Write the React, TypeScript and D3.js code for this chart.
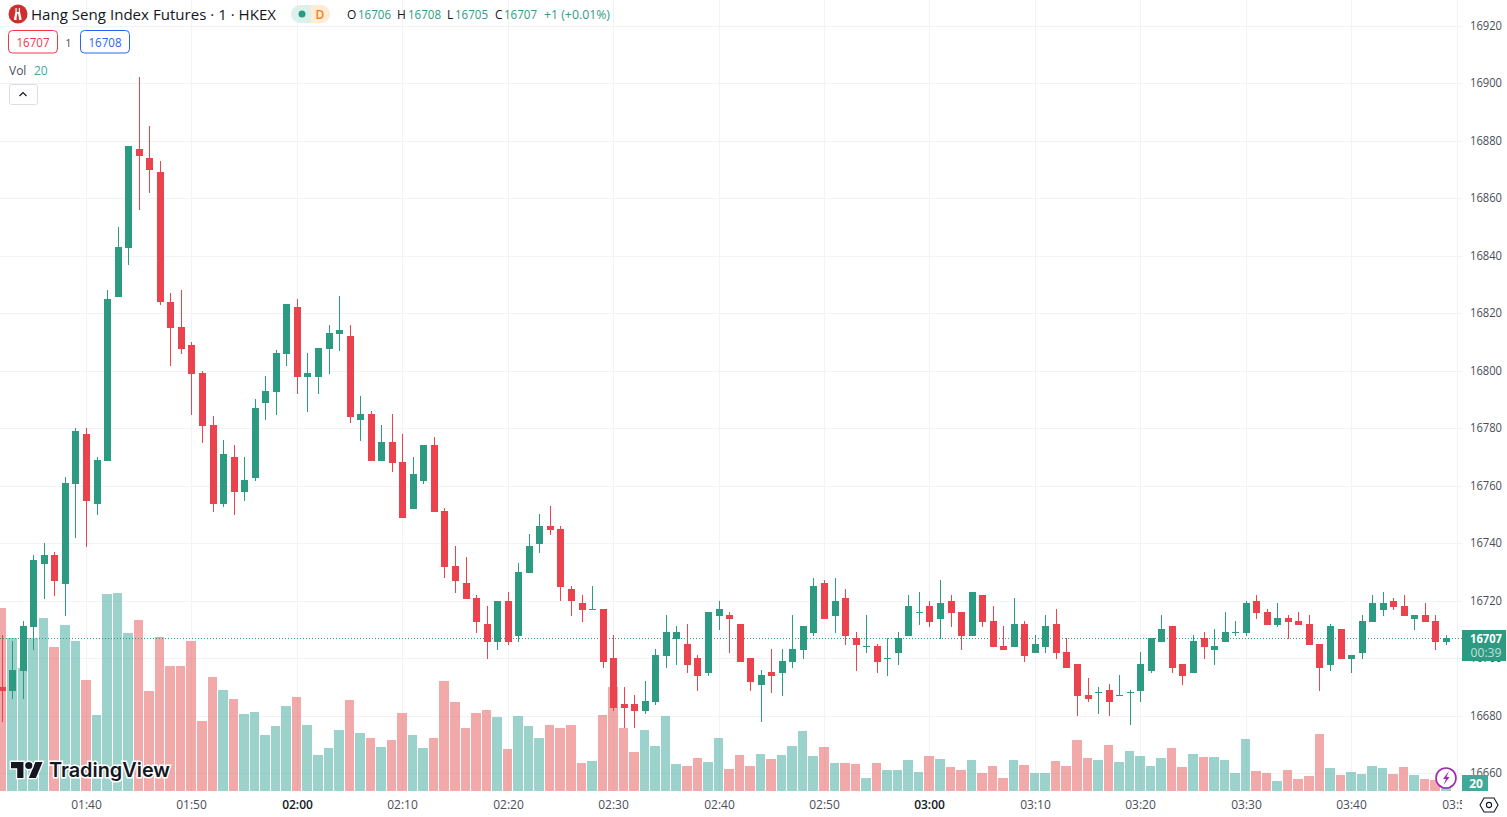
import React from 'react';
import { scaleLinear, range } from 'd3';

const opens = [
  16690, 16689, 16696, 16711, 16733, 16736, 16726, 16761, 16778, 16754,
  16769, 16826, 16843, 16877, 16874, 16869, 16824, 16815, 16809, 16799,
  16781, 16754, 16770, 16758, 16763, 16789, 16793, 16806, 16822, 16798,
  16798, 16808, 16813, 16812, 16783, 16785, 16769, 16775, 16768, 16752,
  16762, 16774, 16751, 16732, 16726, 16721, 16712, 16706, 16720, 16708,
  16730, 16740, 16746, 16745, 16724, 16719, 16717, 16717, 16700, 16684,
  16684, 16682, 16685, 16701, 16707, 16705, 16700, 16695, 16715, 16715,
  16712, 16700, 16691, 16695, 16695, 16699, 16703, 16709, 16726, 16715,
  16721, 16707, 16704, 16704, 16700, 16702, 16708, 16716, 16718, 16714,
  16720, 16716, 16708, 16722, 16713, 16704, 16704, 16712, 16702, 16704,
  16712, 16702, 16698, 16687, 16688, 16689, 16687, 16688, 16689, 16696,
  16706, 16711, 16698, 16695, 16707, 16703, 16706, 16709, 16709, 16720,
  16716, 16712, 16714, 16713, 16712, 16705, 16698, 16710, 16700, 16702,
  16713, 16717, 16720, 16718, 16714, 16715, 16713, 16706,
];
const closes = [
  16689, 16696, 16711, 16734, 16736, 16727, 16761, 16779, 16755, 16769,
  16825, 16843, 16878, 16875, 16870, 16824, 16815, 16808, 16799, 16781,
  16754, 16771, 16758, 16762, 16787, 16793, 16806, 16823, 16798, 16799,
  16808, 16813, 16814, 16784, 16785, 16769, 16775, 16768, 16749, 16764,
  16774, 16751, 16732, 16727, 16721, 16713, 16706, 16720, 16706, 16730,
  16739, 16746, 16745, 16725, 16720, 16717, 16717, 16699, 16683, 16683,
  16682, 16685, 16701, 16709, 16709, 16698, 16694, 16716, 16717, 16714,
  16699, 16692, 16694, 16694, 16699, 16703, 16711, 16725, 16714, 16720,
  16708, 16705, 16704, 16699, 16700, 16707, 16718, 16716, 16713, 16719,
  16716, 16708, 16723, 16713, 16704, 16703, 16712, 16701, 16705, 16711,
  16702, 16697, 16687, 16686, 16688, 16685, 16687, 16688, 16698, 16707,
  16710, 16697, 16694, 16706, 16704, 16704, 16709, 16709, 16719, 16716,
  16712, 16714, 16713, 16712, 16705, 16697, 16711, 16700, 16701, 16713,
  16719, 16719, 16718, 16715, 16715, 16713, 16706, 16707,
];
const highs = [
  16708, 16706, 16713, 16736, 16740, 16737, 16763, 16780, 16780, 16770,
  16828, 16850, 16878, 16902, 16885, 16873, 16827, 16828, 16810, 16800,
  16784, 16776, 16774, 16770, 16790, 16798, 16807, 16823, 16825, 16806,
  16808, 16816, 16826, 16816, 16791, 16786, 16781, 16785, 16778, 16770,
  16774, 16777, 16752, 16739, 16735, 16722, 16718, 16720, 16723, 16733,
  16743, 16750, 16753, 16746, 16725, 16722, 16725, 16717, 16708, 16690,
  16687, 16692, 16703, 16715, 16711, 16712, 16701, 16716, 16720, 16716,
  16712, 16700, 16696, 16703, 16703, 16715, 16711, 16728, 16727, 16728,
  16724, 16709, 16715, 16705, 16707, 16709, 16722, 16723, 16720, 16727,
  16722, 16716, 16723, 16722, 16718, 16711, 16721, 16713, 16708, 16715,
  16717, 16707, 16698, 16693, 16690, 16691, 16694, 16689, 16702, 16707,
  16715, 16711, 16698, 16708, 16709, 16710, 16716, 16713, 16720, 16722,
  16717, 16719, 16715, 16716, 16715, 16705, 16712, 16710, 16701, 16715,
  16722, 16723, 16721, 16722, 16715, 16719, 16715, 16708,
];
const lows = [
  16678, 16686, 16686, 16703, 16721, 16722, 16715, 16742, 16739, 16750,
  16769, 16826, 16837, 16856, 16862, 16823, 16802, 16806, 16785, 16775,
  16751, 16753, 16750, 16755, 16762, 16783, 16785, 16802, 16792, 16786,
  16792, 16799, 16807, 16782, 16776, 16769, 16769, 16765, 16749, 16752,
  16761, 16751, 16728, 16723, 16721, 16709, 16700, 16703, 16705, 16706,
  16730, 16737, 16743, 16720, 16715, 16713, 16717, 16697, 16682, 16676,
  16676, 16681, 16684, 16697, 16698, 16695, 16689, 16694, 16710, 16702,
  16699, 16689, 16678, 16688, 16687, 16697, 16700, 16708, 16714, 16709,
  16705, 16696, 16702, 16695, 16694, 16698, 16708, 16712, 16711, 16707,
  16711, 16703, 16708, 16711, 16704, 16703, 16704, 16699, 16702, 16702,
  16700, 16697, 16680, 16685, 16681, 16680, 16687, 16677, 16685, 16695,
  16706, 16695, 16691, 16695, 16700, 16698, 16706, 16708, 16708, 16714,
  16712, 16711, 16707, 16712, 16705, 16689, 16696, 16700, 16695, 16700,
  16713, 16715, 16717, 16715, 16710, 16713, 16703, 16705,
];
const volumes = [
  458, 382, 308, 382, 432, 360, 415, 375, 278, 190,
  492, 495, 395, 428, 250, 385, 312, 312, 375, 175,
  285, 252, 230, 192, 198, 140, 162, 212, 235, 165,
  90, 108, 152, 228, 145, 132, 110, 128, 195, 140,
  108, 132, 275, 222, 158, 195, 202, 185, 105, 188,
  162, 132, 165, 158, 165, 70, 75, 190, 260, 158,
  98, 152, 112, 188, 68, 62, 82, 72, 132, 55,
  90, 62, 92, 80, 90, 112, 150, 88, 110, 70,
  70, 68, 32, 70, 52, 52, 78, 48, 88, 80,
  60, 52, 78, 45, 62, 32, 78, 65, 45, 45,
  75, 62, 128, 82, 78, 115, 72, 100, 88, 62,
  82, 108, 60, 92, 85, 85, 78, 45, 130, 50,
  45, 25, 52, 30, 38, 142, 58, 40, 48, 42,
  62, 58, 42, 60, 40, 30, 28, 20,
];

const priceTicks = [16660, 16680, 16700, 16720, 16740, 16760, 16780, 16800, 16820, 16840, 16860, 16880, 16900, 16920];
const timeLabels = ['01:40', '01:50', '02:00', '02:10', '02:20', '02:30', '02:40', '02:50', '03:00', '03:10', '03:20', '03:30', '03:40', '03:50'];
const firstTickBar = 8;
const barsPerTick = 10;
const boldLabels = ['02:00', '03:00'];

const lastPrice = 16707;
const lastVolume = 20;

const width = 1507;
const height = 817;
const plotRight = 1462;
const plotBottom = 791;

const UP = '#2d9b81';
const DOWN = '#eb434d';
const UP_VOL = '#37a599';
const DOWN_VOL = '#e35553';
const GRID = '#f2f3f5';
const TEXT = '#131722';
const AXIS_TEXT = '#4a4e58';
const FONT = '"Open Sans", "Noto Sans", sans-serif';

const xScale = scaleLinear().domain([0, 137]).range([2.2, 1446.5]);
const yScale = scaleLinear().domain([16660, 16920]).range([773.5, 26]);
const volScale = scaleLinear().domain([0, 500]).range([plotBottom, plotBottom - 200]);

const crisp = (v: number) => Math.floor(v) + 0.5;
const volLeft = (i: number) => Math.floor(xScale(i) - 4.98);

function App() {
  const bars = range(opens.length);
  const tickX = (k: number) => crisp(xScale(firstTickBar + k * barsPerTick));
  const lastY = Math.round(yScale(lastPrice)) + 0.5;

  return (
    <svg
      width={width}
      height={height}
      style={{ position: 'absolute', left: 0, top: 0, background: '#fff', fontFamily: FONT }}
    >
      <defs>
        <clipPath id="plot">
          <rect x={0} y={0} width={plotRight} height={plotBottom} />
        </clipPath>
        <clipPath id="time-axis">
          <rect x={0} y={plotBottom} width={plotRight} height={height - plotBottom} />
        </clipPath>
      </defs>

      {/* grid */}
      <g stroke={GRID} strokeWidth={1}>
        {priceTicks.map((p) => (
          <line key={p} x1={0} x2={plotRight} y1={crisp(yScale(p))} y2={crisp(yScale(p))} />
        ))}
        {timeLabels.map((t, k) => (
          <line key={t} x1={tickX(k)} x2={tickX(k)} y1={0} y2={plotBottom} />
        ))}
      </g>

      <g clipPath="url(#plot)">
        {/* volume */}
        {bars.map((i) => {
          const top = Math.round(volScale(volumes[i]));
          return (
            <rect
              key={i}
              x={volLeft(i)}
              y={top}
              width={volLeft(i + 1) - 1 - volLeft(i)}
              height={plotBottom - top}
              fill={closes[i] >= opens[i] ? UP_VOL : DOWN_VOL}
              fillOpacity={0.5}
            />
          );
        })}

        {/* last price line */}
        <line x1={0} x2={plotRight} y1={lastY} y2={lastY} stroke={UP} strokeDasharray="1 2" />

        {/* candles */}
        {bars.map((i) => {
          const color = closes[i] >= opens[i] ? UP : DOWN;
          const cx = Math.floor(xScale(i));
          const top = Math.floor(yScale(Math.max(opens[i], closes[i])));
          const bottom = Math.ceil(yScale(Math.min(opens[i], closes[i])));
          const wickTop = Math.floor(yScale(highs[i]));
          const wickBottom = Math.ceil(yScale(lows[i]));
          return (
            <g key={i} fill={color}>
              <rect x={cx} y={wickTop} width={1} height={Math.max(1, wickBottom - wickTop)} />
              <rect x={cx - 3} y={top} width={7} height={Math.max(1, bottom - top)} />
            </g>
          );
        })}
      </g>

      {/* watermark */}
      <g
        transform="translate(11,758.4) scale(0.889)"
        fill="#131722"
        stroke="#fff"
        strokeWidth={3}
        style={{ paintOrder: 'stroke' }}
      >
        <path d="M14 22H7V11H0V4h14v18zM28 22h-8l7.5-18h8L28 22z" />
        <circle cx={20} cy={8} r={4} />
      </g>
      <text
        x={49}
        y={777}
        fontFamily='Inter, sans-serif'
        fontWeight={600}
        fontSize={20}
        fill="#131722"
        stroke="#fff"
        strokeWidth={3}
        style={{ paintOrder: 'stroke' }}
        textLength={121}
        lengthAdjust="spacingAndGlyphs"
      >
        TradingView
      </text>

      {/* price axis */}
      <g fontSize={12} fill={AXIS_TEXT}>
        {priceTicks.map((p) => (
          <text key={p} x={1470} y={yScale(p) + 3.5} textLength={32} lengthAdjust="spacingAndGlyphs">
            {p}
          </text>
        ))}
      </g>

      {/* time axis */}
      <g clipPath="url(#time-axis)" fontSize={12} fill={AXIS_TEXT} textAnchor="middle">
        {timeLabels.map((t, k) => (
          <text
            key={t}
            x={tickX(k)}
            y={808.5}
            fontWeight={boldLabels.includes(t) ? 600 : 400}
            fill={boldLabels.includes(t) ? '#131722' : AXIS_TEXT}
          >
            {t}
          </text>
        ))}
      </g>

      {/* last price badge */}
      <rect x={plotRight} y={630} width={44} height={31} fill={UP} />
      <text x={1486} y={643} fontSize={12} fontWeight={700} fill="#fff" textAnchor="middle" textLength={32} lengthAdjust="spacingAndGlyphs">
        {lastPrice}
      </text>
      <text x={1486} y={657} fontSize={12} fill="#fff" fillOpacity={0.7} textAnchor="middle" textLength={31} lengthAdjust="spacingAndGlyphs">
        00:39
      </text>

      {/* volume badge */}
      <rect x={plotRight} y={775} width={26} height={16} fill="#42a897" />
      <text x={1476} y={788} fontSize={12} fontWeight={700} fill="#fff" textAnchor="middle">
        {lastVolume}
      </text>

      {/* lightning */}
      <circle cx={1446} cy={778} r={10} fill="#fff" stroke="#9c27b0" strokeWidth={1.6} />
      <path d="M1449 771l-6 8h3l-2.5 6 6-8h-3z" fill="#9c27b0" />

      {/* settings */}
      <path d="M1484 798h10l4 7-4 7h-10l-4-7z" fill="none" stroke="#131722" strokeWidth={1.1} />
      <circle cx={1489} cy={805} r={2.6} fill="none" stroke="#131722" strokeWidth={1.1} />

      {/* legend */}
      <circle cx={18} cy={14} r={9.5} fill="#cf2f2c" />
      <path d="M15.5 8v3c0 3-1.5 5-1.5 9h2.5c0-3 .5-5 1.2-7 .7 2 1.3 4 1.3 7h2.5c0-4-1.5-6-1.5-9V8h-1.2v4h-2.1V8z" fill="#fff" />
      <text x={31} y={19.5} fontSize={14} fill={TEXT} textLength={245} lengthAdjust="spacingAndGlyphs">
        Hang Seng Index Futures · 1 · HKEX
      </text>

      <rect x={291} y={5} width={39} height={18} rx={9} fill="#dcf1ec" />
      <path d="M311 5h10a9 9 0 0 1 0 18h-10z" fill="#ffecd2" />
      <circle cx={302} cy={14} r={3.5} fill={UP} />
      <text x={320} y={19} fontSize={12} fontWeight={600} fill="#f57f17" textAnchor="middle">D</text>

      <g fontSize={12} fill="#2f9c84">
        <text x={347} y={19} fill={TEXT}>O</text>
        <text x={358} y={19} textLength={33} lengthAdjust="spacingAndGlyphs">16706</text>
        <text x={397} y={19} fill={TEXT}>H</text>
        <text x={408} y={19} textLength={33} lengthAdjust="spacingAndGlyphs">16708</text>
        <text x={447} y={19} fill={TEXT}>L</text>
        <text x={455} y={19} textLength={33} lengthAdjust="spacingAndGlyphs">16705</text>
        <text x={495} y={19} fill={TEXT}>C</text>
        <text x={504} y={19} textLength={33} lengthAdjust="spacingAndGlyphs">16707</text>
        <text x={544} y={19} textLength={66} lengthAdjust="spacingAndGlyphs">+1 (+0.01%)</text>
      </g>

      {/* bid / ask */}
      <rect x={8.5} y={30.5} width={49} height={22.5} rx={4} fill="#fff" stroke="#f23645" />
      <text x={33} y={46.5} fontSize={12} fill="#f23645" textAnchor="middle" textLength={33} lengthAdjust="spacingAndGlyphs">16707</text>
      <text x={68.5} y={46.5} fontSize={11} fill={AXIS_TEXT} textAnchor="middle">1</text>
      <rect x={80.5} y={30.5} width={49} height={22.5} rx={4} fill="#fff" stroke="#2962ff" />
      <text x={105} y={46.5} fontSize={12} fill="#2962ff" textAnchor="middle" textLength={33} lengthAdjust="spacingAndGlyphs">16708</text>

      {/* volume legend */}
      <text x={9} y={75} fontSize={12} fill={AXIS_TEXT}>Vol</text>
      <text x={34} y={75} fontSize={12} fill="#42a897">{lastVolume}</text>
      <rect x={9.5} y={84.5} width={28} height={20} rx={2} fill="#fff" stroke="#dcdee6" />
      <path d="M19.5 96l3.5-3.5 3.5 3.5" fill="none" stroke="#131722" strokeWidth={1.2} />
    </svg>
  );
}

export default App;
